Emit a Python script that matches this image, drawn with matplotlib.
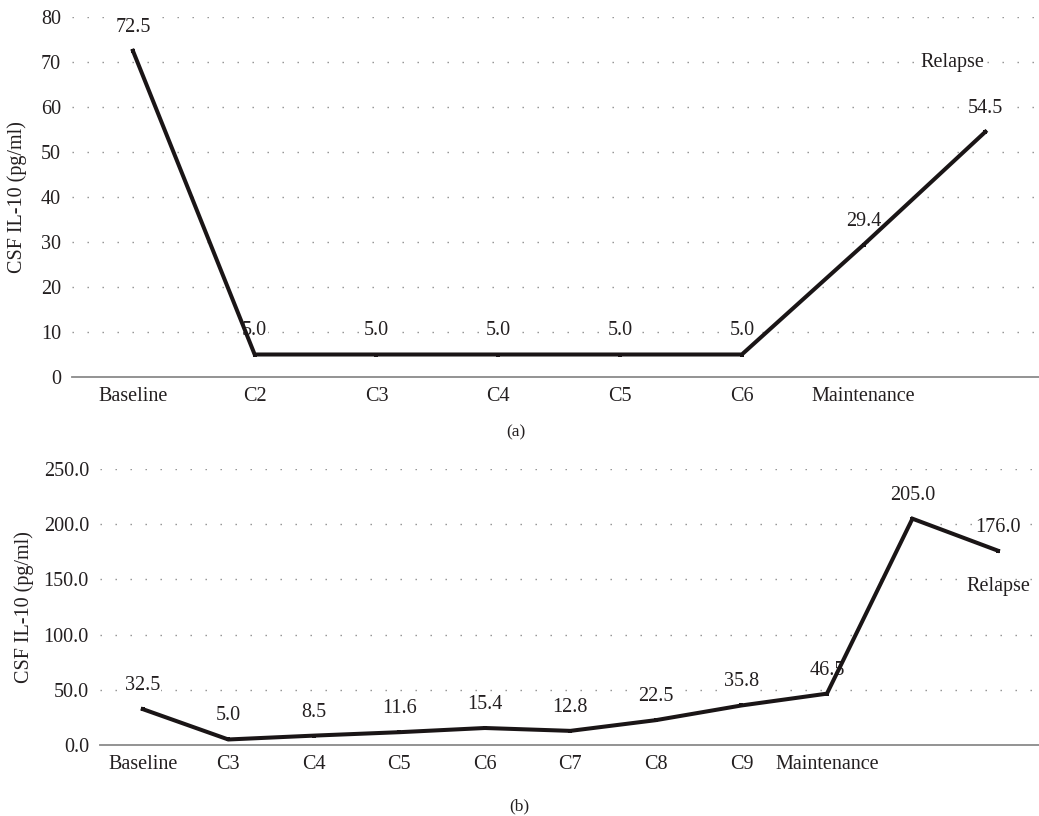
import matplotlib
matplotlib.use("Agg")
import matplotlib.pyplot as plt

# Panel (a): CSF IL-10 over treatment cycles
cats_a = ["Baseline", "C2", "C3", "C4", "C5", "C6", "Maintenance", ""]
vals_a = [72.5, 5.0, 5.0, 5.0, 5.0, 5.0, 29.4, 54.5]
yticks_a = [0, 10, 20, 30, 40, 50, 60, 70, 80]

# Panel (b)
cats_b = ["Baseline", "C3", "C4", "C5", "C6", "C7", "C8", "C9", "Maintenance", "", ""]
vals_b = [32.5, 5.0, 8.5, 11.6, 15.4, 12.8, 22.5, 35.8, 46.5, 205.0, 176.0]
yticks_b = [0, 50, 100, 150, 200, 250]

plt.rcParams["font.family"] = ["Liberation Serif", "DejaVu Serif"]
FS = 14.5
TXT = "#231f20"

fig = plt.figure(figsize=(10.39, 8.16), dpi=100)
W, H = 1039, 816


def px_axes(left, top, right, bottom):
    return fig.add_axes([left / W, 1 - bottom / H, (right - left) / W, (bottom - top) / H])


def style(ax, cats, ticks, fmt, xmax):
    x = list(range(len(cats)))
    ax.set_xlim(-0.5, xmax)
    ax.set_ylim(ticks[0], ticks[-1])
    ax.set_xticks(x)
    ax.set_xticklabels(cats, fontsize=FS, color=TXT)
    ax.set_yticks(ticks)
    ax.set_yticklabels([fmt.format(t) for t in ticks], fontsize=FS, color=TXT)
    ax.tick_params(axis="both", length=0)
    ax.tick_params(axis="x", pad=7)
    ax.tick_params(axis="y", pad=8)
    for s in ["top", "right", "left"]:
        ax.spines[s].set_visible(False)
    ax.spines["bottom"].set_color("#8a8a8a")
    ax.spines["bottom"].set_linewidth(1.3)
    ax.spines["bottom"].set_zorder(1)
    for t in ticks[1:]:
        ax.axhline(t, color="#8c8c8c", lw=1.0, dashes=(1.0, 9.8), zorder=0)
    ax.set_ylabel("CSF IL-10 (pg/ml)", fontsize=FS, color=TXT)


def draw(ax, vals):
    x = list(range(len(vals)))
    for xi, v in zip(x, vals):
        ax.annotate(f"{v:.1f}", (xi, v), xytext=(0, 17), textcoords="offset points",
                    ha="center", va="center", fontsize=FS, color=TXT, zorder=2,
                    bbox=dict(boxstyle="square,pad=0.05", fc="white", ec="none"))
    ax.plot(x, vals, color="#1a1516", lw=2.9, marker="s", markersize=2.6,
            markeredgewidth=0, solid_joinstyle="miter", zorder=3)


ax1 = px_axes(72, 17, 1039, 377)
style(ax1, cats_a, yticks_a, "{:.0f}", 7.44)
draw(ax1, vals_a)
ax1.text(6.73, 70, "Relapse", ha="center", va="center", fontsize=FS, color=TXT, zorder=2,
         bbox=dict(boxstyle="square,pad=0.1", fc="white", ec="none"))
ax1.yaxis.set_label_coords(-0.047, 0.5)
fig.text(516 / W, 1 - 432 / H, "(a)", ha="center", va="center", fontsize=12.5, color=TXT)

ax2 = px_axes(100, 469, 1039, 745)
style(ax2, cats_b, yticks_b, "{:.1f}", 10.48)
draw(ax2, vals_b)
ax2.text(10, 144, "Relapse", ha="center", va="center", fontsize=FS, color=TXT, zorder=2)
ax2.yaxis.set_label_coords(-0.07, 0.5)
fig.text(519 / W, 1 - 806 / H, "(b)", ha="center", va="center", fontsize=12.5, color=TXT)

fig.savefig("out.png", dpi=100)
